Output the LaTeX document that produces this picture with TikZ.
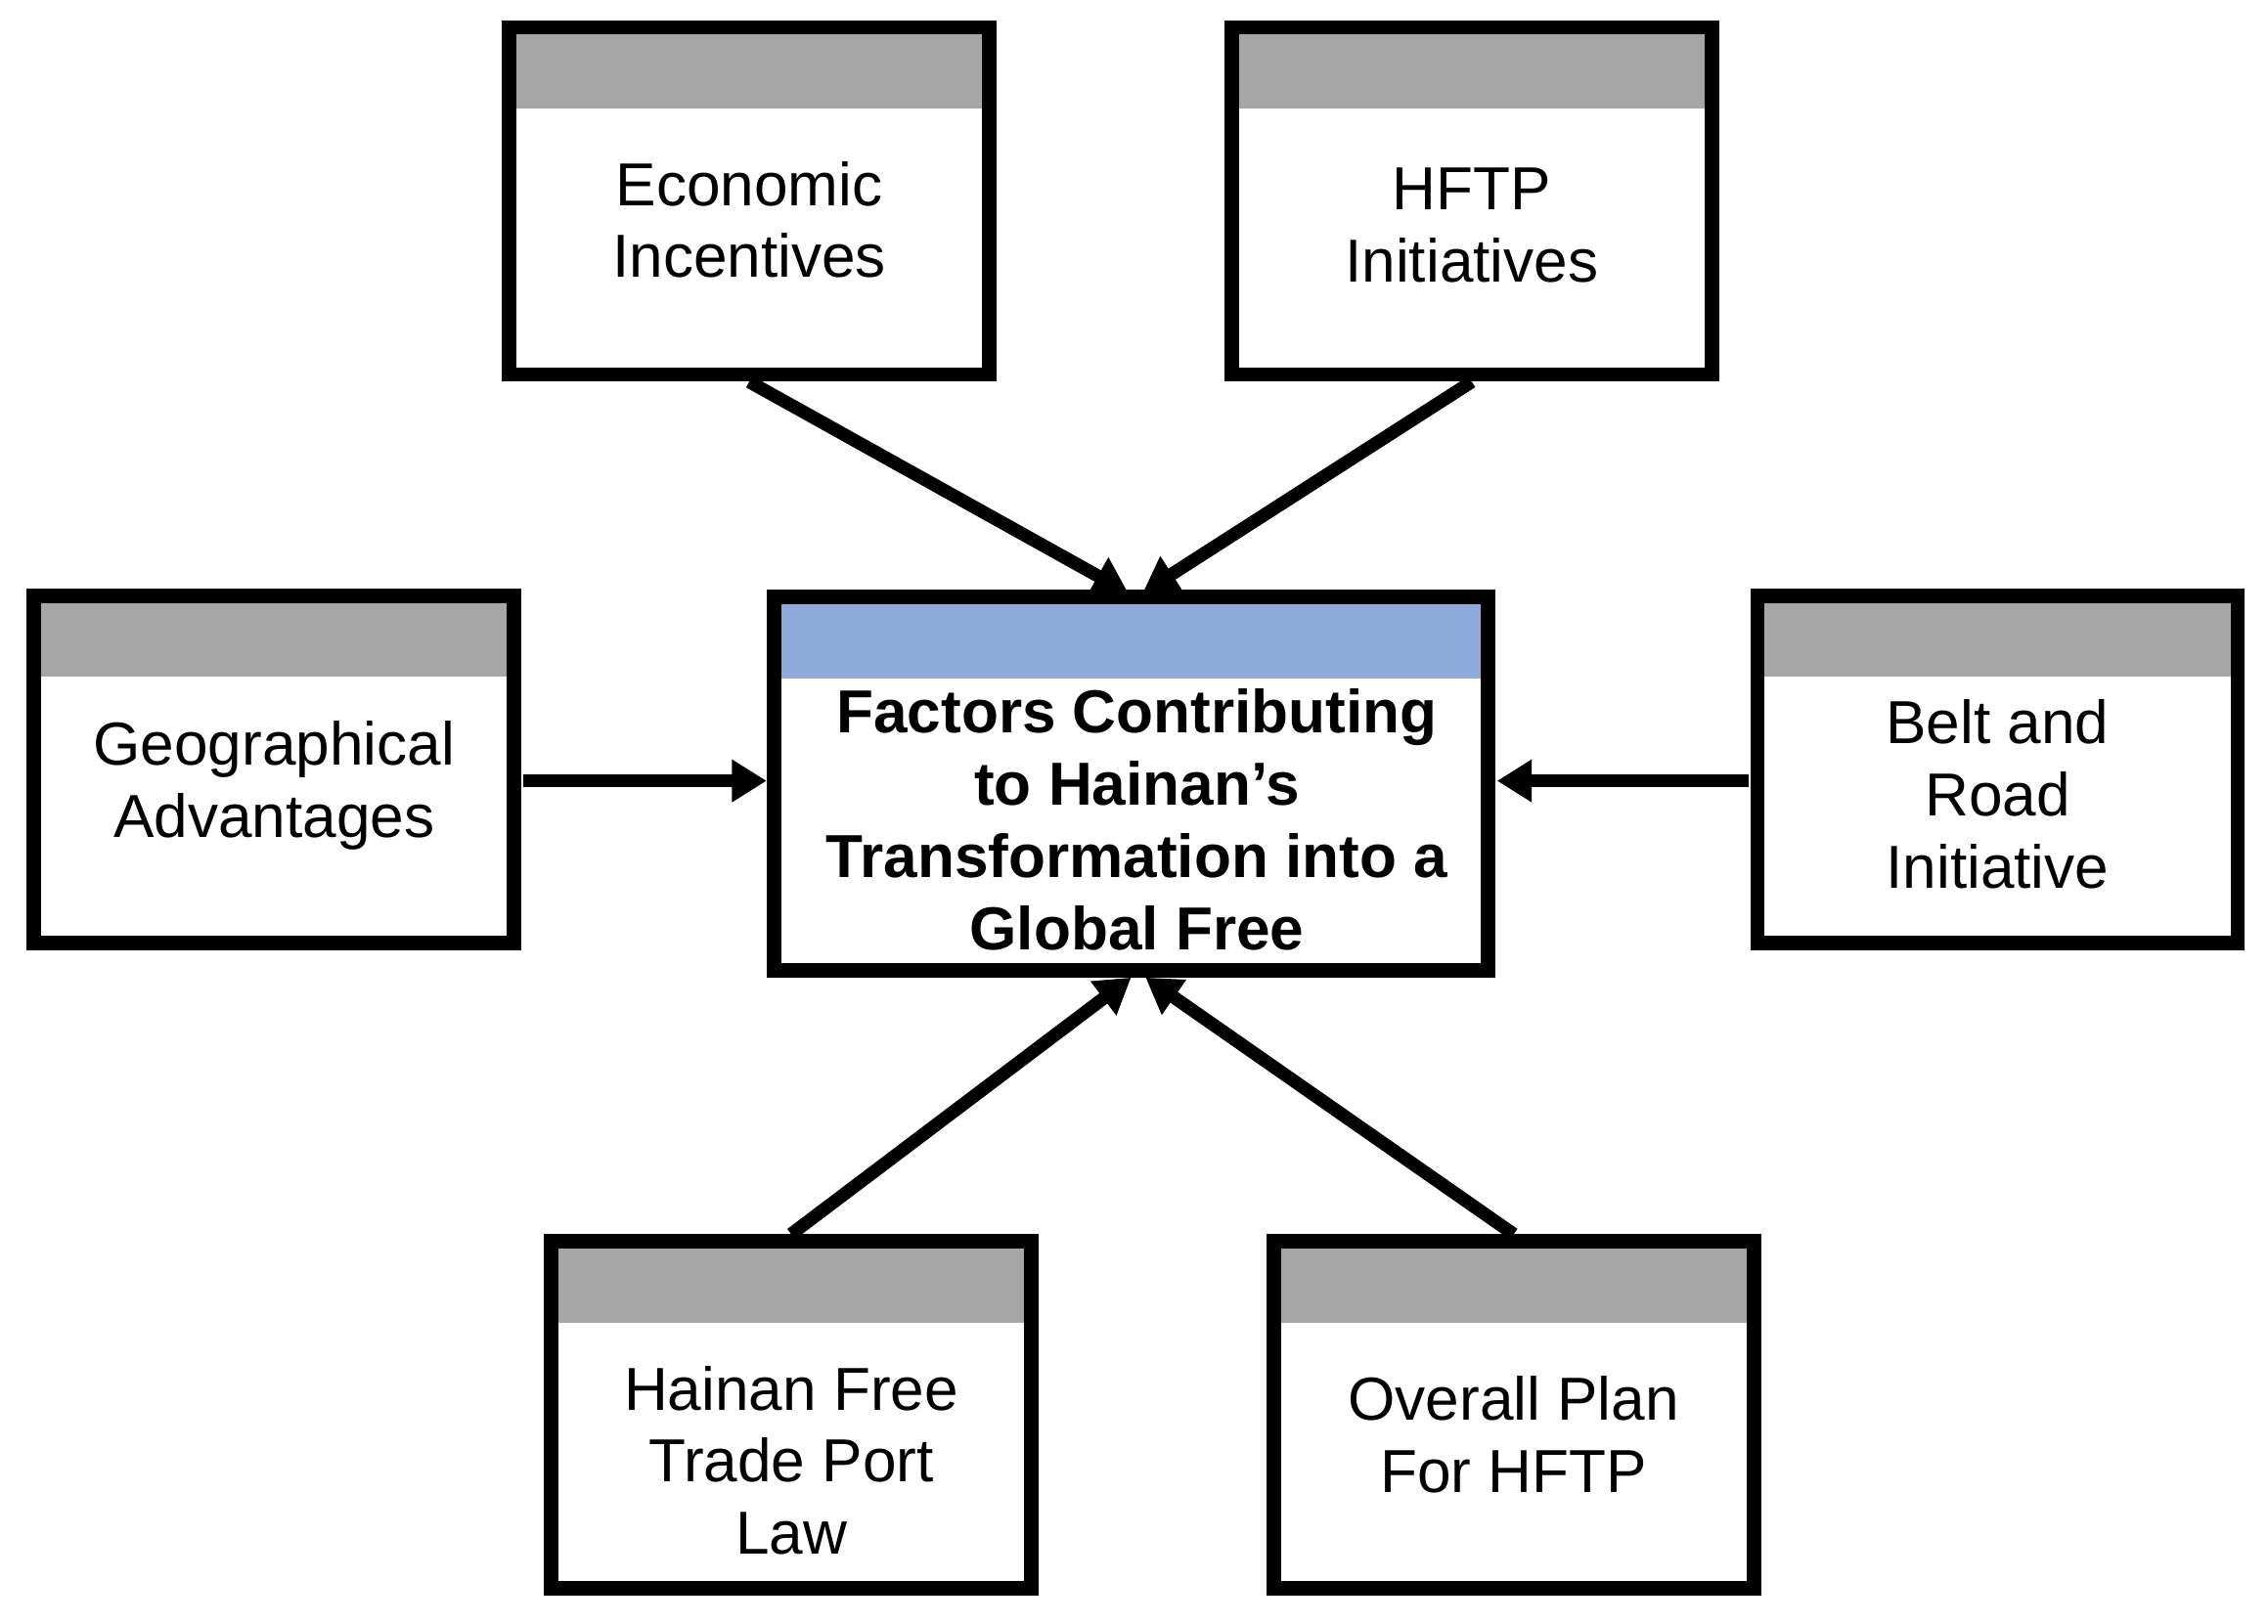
\documentclass[tikz,border=0pt]{standalone}
\usepackage{fontspec}
\setmainfont{Liberation Sans}
\usetikzlibrary{arrows.meta}
\definecolor{hdr}{RGB}{166,166,166}
\definecolor{bhdr}{RGB}{142,169,219}
\begin{document}
\begin{tikzpicture}[x=0.5pt,y=-0.5pt,
  box/.style={draw,line width=5pt,minimum width=166pt,minimum height=120pt,inner sep=0pt,
    path picture={\fill[#1] (path picture bounding box.north west) rectangle ([yshift=-28pt]path picture bounding box.north east);}},
  box/.default=hdr,
  txt/.style={align=center,font=\fontsize{21}{25}\selectfont},
  arr/.style={line width=4.5pt,-{Triangle[length=12pt,width=14pt]}}]
\useasboundingbox (0,0) rectangle (1568,1123);
\node[box] (eco) at (518,139) {};
\node[box] (hftp) at (1017.5,139) {};
\node[box] (geo) at (189.5,532) {};
\node[box] (belt) at (1381,532) {};
\node[box] (law) at (547,978.5) {};
\node[box] (plan) at (1046.5,978.5) {};
\node[box=bhdr,minimum width=247pt,minimum height=129pt] (ctr) at (782,542) {};
\node[txt] (t1) at (518,152) {Economic\\Incentives};
\node[txt] (t2) at (1017.5,156) {HFTP\\Initiatives};
\node[txt] (t3) at (189.5,543) {Geographical\\Advantages};
\node[txt] (t4) at (1381,549) {Belt and\\Road\\Initiative};
\node[txt] (t5) at (547,1010) {Hainan Free\\Trade Port\\Law};
\node[txt] (t6) at (1046.5,992) {Overall Plan\\For HFTP};
\node[txt,font=\bfseries\fontsize{21}{25}\selectfont] (t0) at (786,567) {Factors Contributing\\to Hainan\char39 s\\Transformation into a\\Global Free};
\coordinate (a1) at (780,410);
\coordinate (a2) at (790,410);
\coordinate (a5) at (782,676);
\coordinate (a6) at (792,676);
\coordinate (g1) at (362,540);
\coordinate (g2) at (530,540);
\coordinate (b1) at (1209,540);
\coordinate (b2) at (1035,540);
\draw[arr] (eco.south) -- (a1);
\draw[arr] (hftp.south) -- (a2);
\draw[arr] (g1) -- (g2);
\draw[arr] (b1) -- (b2);
\draw[arr] (law.north) -- (a5);
\draw[arr] (plan.north) -- (a6);
\end{tikzpicture}
\end{document}
